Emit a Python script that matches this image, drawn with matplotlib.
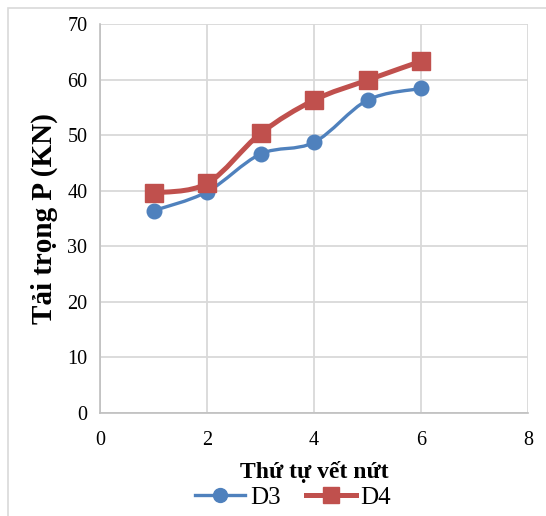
import numpy as np
import matplotlib
matplotlib.use("Agg")
import matplotlib.pyplot as plt
from matplotlib.path import Path
from matplotlib.patches import PathPatch, Rectangle
from matplotlib.lines import Line2D

# data
crack_order = [1, 2, 3, 4, 5, 6]
load_d3 = [36.4, 39.8, 46.6, 48.7, 56.3, 58.4]
load_d4 = [39.6, 41.3, 50.3, 56.3, 59.9, 63.3]
series_names = ["D3", "D4"]
x_ticks = [0, 2, 4, 6, 8]
y_ticks = [0, 10, 20, 30, 40, 50, 60, 70]

blue = "#4F81BD"
red = "#C0504D"
grid_col = "#D9D9D9"

plt.rcParams["font.family"] = ["Liberation Serif", "DejaVu Serif"]


def smooth_path(x, y):
    # Excel-like smoothed line: Catmull-Rom turned into cubic bezier segments
    x = np.asarray(x, float)
    y = np.asarray(y, float)
    px = np.concatenate([[x[0]], x, [x[-1]]])
    py = np.concatenate([[y[0]], y, [y[-1]]])
    verts = [(x[0], y[0])]
    codes = [Path.MOVETO]
    for i in range(1, len(px) - 2):
        c1 = (px[i] + (px[i + 1] - px[i - 1]) / 6, py[i] + (py[i + 1] - py[i - 1]) / 6)
        c2 = (px[i + 1] - (px[i + 2] - px[i]) / 6, py[i + 1] - (py[i + 2] - py[i]) / 6)
        verts += [c1, c2, (px[i + 1], py[i + 1])]
        codes += [Path.CURVE4] * 3
    return Path(verts, codes)


fig = plt.figure(figsize=(5.46, 5.16), dpi=100)
ax = fig.add_axes([100 / 546, 1 - 413 / 516, 428 / 546, 389 / 516])

# chart area border
fig.patches.append(Rectangle((8 / 546, -0.1), 1.2, 1 - 8 / 516 + 0.1,
                             transform=fig.transFigure, fill=False,
                             edgecolor=grid_col, lw=1.2))

ax.set_xlim(0, 8)
ax.set_ylim(0, 70)
ax.set_xticks(x_ticks)
ax.set_yticks(y_ticks)
ax.grid(True, color=grid_col, lw=1.3)
ax.set_axisbelow(True)
for s in ["top", "right"]:
    ax.spines[s].set_visible(False)
for s in ["left", "bottom"]:
    ax.spines[s].set_color("#BFBFBF")
    ax.spines[s].set_linewidth(1.2)
ax.tick_params(length=0, labelsize=14.5)
ax.tick_params(axis="x", pad=13)
ax.tick_params(axis="y", pad=9)

for ys, col, lw, mk, ms in [(load_d3, blue, 2.4, "o", 10.5), (load_d4, red, 3.6, "s", 13)]:
    ax.add_patch(PathPatch(smooth_path(crack_order, ys), facecolor="none",
                           edgecolor=col, lw=lw, capstyle="round", zorder=3))
    ax.plot(crack_order, ys, linestyle="none", marker=mk, ms=ms, color=col, zorder=4)

ax.set_ylabel("Tải trọng P (KN)", fontsize=21, fontweight="bold", labelpad=7)
ax.set_xlabel("Thứ tự vết nứt", fontsize=17, fontweight="bold", labelpad=8)

handles = [Line2D([], [], color=blue, lw=2.4, marker="o", ms=10),
           Line2D([], [], color=red, lw=3.6, marker="s", ms=11)]
fig.legend(handles, series_names, loc="lower center", bbox_to_anchor=(0.537, -0.03),
           ncol=2, frameon=False, fontsize=18, handlelength=2.0, handletextpad=0.2,
           columnspacing=1.0)

fig.savefig("out.png", dpi=100)
